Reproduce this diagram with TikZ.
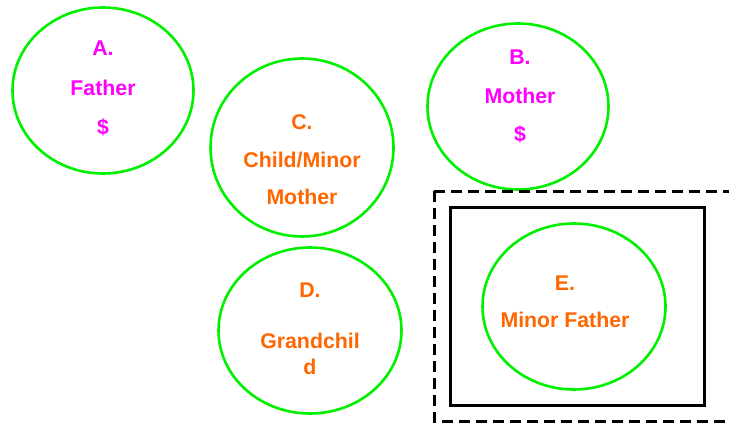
\documentclass[tikz,border=0pt]{standalone}
\usepackage{fontspec}
\setmainfont{Liberation Sans}
\usetikzlibrary{shapes.geometric}
\definecolor{ringgreen}{RGB}{0,240,0}
\definecolor{pinktext}{RGB}{255,0,255}
\definecolor{orangetext}{RGB}{255,102,0}
\begin{document}
\begin{tikzpicture}[x=1pt,y=-1pt,
  ring/.style={ellipse,draw=ringgreen,line width=2.6pt,inner sep=0pt,outer sep=0pt},
  ptxt/.style={font=\fontsize{21.3}{25}\selectfont\bfseries,text=pinktext,inner sep=0pt},
  otxt/.style={font=\fontsize{21.3}{25}\selectfont\bfseries,text=orangetext,inner sep=0pt}]
\useasboundingbox (0,0) rectangle (729,423);
% family members
\node[ring,minimum width=181pt,minimum height=166pt] (A) at (103,90.5) {};
\node[ring,minimum width=183pt,minimum height=178pt] (C) at (302,147.5) {};
\node[ring,minimum width=181pt,minimum height=166pt] (B) at (518,106.5) {};
\node[ring,minimum width=183pt,minimum height=166pt] (D) at (310,330.5) {};
% boxes around the minor father
\draw[line width=3pt,dash pattern=on 11pt off 6pt] (434,191) -- (740,191)
  (434,191) -- (434,421) -- (740,421);
\node[draw=black,line width=2.8pt,minimum width=254pt,minimum height=198pt,inner sep=0pt] (Ebox) at (577.5,306.5) {};
\node[ring,minimum width=183pt,minimum height=166pt] (E) at (574,306.5) {};
% labels
\node[ptxt] (Aa) at (103,48) {A.};
\node[ptxt] (Ab) at (103,88) {Father};
\node[ptxt] (Ac) at (103,127) {\$};
\node[ptxt] (Ba) at (520,57) {B.};
\node[ptxt] (Bb) at (520,96) {Mother};
\node[ptxt] (Bc) at (520,134) {\$};
\node[otxt] (Ca) at (302,122) {C.};
\node[otxt] (Cb) at (302,160) {Child/Minor};
\node[otxt] (Cc) at (302,197) {Mother};
\node[otxt] (Da) at (310,290) {D.};
\node[otxt] (Db) at (310,341) {Grandchil};
\node[otxt] (Dc) at (310,367) {d};
\node[otxt] (Ea) at (565,283) {E.};
\node[otxt] (Eb) at (565,320) {Minor Father};
\end{tikzpicture}
\end{document}
